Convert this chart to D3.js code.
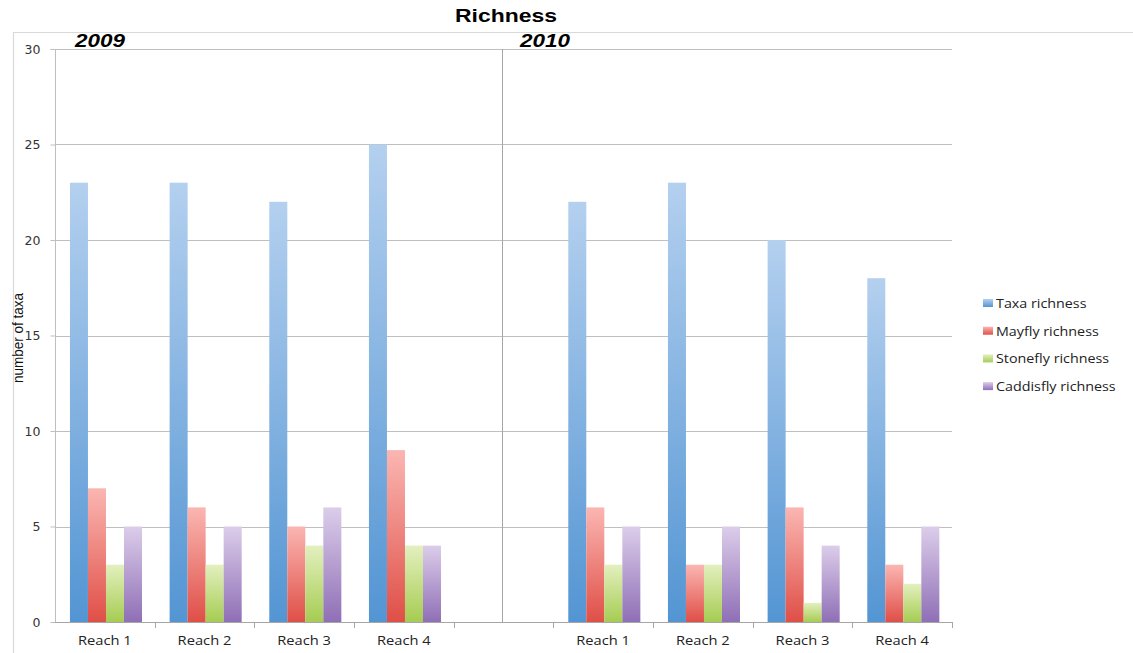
<!DOCTYPE html>
<html>
<head>
<meta charset="utf-8">
<script src="https://cdn.jsdelivr.net/npm/d3@7/dist/d3.min.js"></script>
<style>
  html, body { margin: 0; padding: 0; background: #fff; }
  svg { display: block; }
</style>
</head>
<body>
<svg id="chart" width="1133" height="653"></svg>
<script>
// Sampling sites, grouped by year, with an empty slot between years
const years = ["2009", "2010"];
const reaches = ["Reach 1", "Reach 2", "Reach 3", "Reach 4"];
const seriesNames = ["Taxa richness", "Mayfly richness", "Stonefly richness", "Caddisfly richness"];

// Number of taxa per reach, one array per series (2009 reaches then 2010 reaches)
const taxaRichness      = [23, 23, 22, 25, 22, 23, 20, 18];
const mayflyRichness    = [7, 6, 5, 9, 6, 3, 6, 3];
const stoneflyRichness  = [3, 3, 4, 4, 3, 3, 1, 2];
const caddisflyRichness = [5, 5, 6, 4, 5, 5, 4, 5];

const yTicks = [0, 5, 10, 15, 20, 25, 30];

const seriesValues = [taxaRichness, mayflyRichness, stoneflyRichness, caddisflyRichness];
const seriesColors = [
  { top: "#b4d0ef", bottom: "#5395d3" },
  { top: "#fbb6b2", bottom: "#df4f47" },
  { top: "#e3f0bf", bottom: "#a6cc52" },
  { top: "#dccdea", bottom: "#8f6fb6" }
];

// Category keys: four reaches for each year, with a gap slot between years
const slots = [];
years.forEach((yr, yi) => {
  reaches.forEach(r => slots.push(yr + "|" + r));
  if (yi === 0) slots.push("gap");
});
const rows = [];
years.forEach((yr, yi) => reaches.forEach((r, ri) => {
  const idx = yi * reaches.length + ri;
  rows.push({ key: yr + "|" + r, reach: r, values: seriesValues.map(s => s[idx]) });
}));

const svg = d3.select("#chart");
const plotLeft = 55, plotRight = 952, plotTop = 49, plotBottom = 622;

// Widen text horizontally by a factor, keeping its height
function widen(sel, factor) {
  sel.each(function () {
    const w = this.getComputedTextLength();
    d3.select(this).attr("textLength", w * factor).attr("lengthAdjust", "spacingAndGlyphs");
  });
}

// Outer frame
svg.append("path")
  .attr("d", "M13.5,653 V32.5 H1133")
  .attr("fill", "none").attr("stroke", "#d9d9d9").attr("stroke-width", 1.2);

const x0 = d3.scaleBand().domain(slots).range([plotLeft, plotRight]).padding(0);
const bw = x0.bandwidth();
const x1 = d3.scaleBand().domain(seriesNames).range([bw * 0.15, bw * 0.873]).padding(0);
const y = d3.scaleLinear().domain([0, 30]).range([plotBottom, plotTop]);

// Vertical gradients, light at top and saturated at the base
const defs = svg.append("defs");
seriesColors.forEach((c, i) => {
  const g = defs.append("linearGradient").attr("id", "grad" + i)
    .attr("x1", 0).attr("y1", 0).attr("x2", 0).attr("y2", 1);
  g.append("stop").attr("offset", "0%").attr("stop-color", c.top);
  g.append("stop").attr("offset", "100%").attr("stop-color", c.bottom);
});

// Horizontal gridlines
svg.append("g").selectAll("line").data(yTicks.filter(d => d > 0)).join("line")
  .attr("x1", plotLeft).attr("x2", plotRight)
  .attr("y1", d => Math.round(y(d)) + 0.5).attr("y2", d => Math.round(y(d)) + 0.5)
  .attr("stroke", "#bfbfbf").attr("stroke-width", 1);

// Y axis
const yAxis = d3.axisLeft(y).tickValues(yTicks).tickSize(5).tickPadding(10);
const yg = svg.append("g").attr("transform", `translate(${plotLeft + 0.5},0)`).call(yAxis);
yg.select(".domain").attr("stroke", "#bfbfbf").attr("d", `M-5,${plotTop + 0.5}H0V${plotBottom + 0.5}`);
yg.selectAll(".tick line").attr("stroke", "#bfbfbf");
yg.selectAll(".tick text").attr("font-family", "DejaVu Sans").attr("font-size", 12.5).attr("fill", "#333");

// Separator between the two years
svg.append("line")
  .attr("x1", x0("gap") + bw / 2 - 1).attr("x2", x0("gap") + bw / 2 - 1)
  .attr("y1", plotTop).attr("y2", plotBottom)
  .attr("stroke", "#a6a6a6").attr("stroke-width", 1);

// Bars
const groups = svg.append("g").selectAll("g").data(rows).join("g")
  .attr("transform", d => `translate(${x0(d.key)},0)`);
groups.selectAll("rect")
  .data(d => d.values.map((v, i) => ({ name: seriesNames[i], value: v, i })))
  .join("rect")
  .attr("x", d => x1(d.name))
  .attr("width", x1.bandwidth())
  .attr("y", d => y(d.value))
  .attr("height", d => y(0) - y(d.value))
  .attr("fill", d => `url(#grad${d.i})`);

// X axis with ticks at category boundaries
const xg = svg.append("g");
xg.append("line").attr("x1", plotLeft).attr("x2", plotRight)
  .attr("y1", plotBottom + 0.5).attr("y2", plotBottom + 0.5)
  .attr("stroke", "#a6a6a6");
xg.selectAll("line.tk").data(slots).join("line").attr("class", "tk")
  .attr("x1", d => Math.round(x0(d) + bw) + 0.5).attr("x2", d => Math.round(x0(d) + bw) + 0.5)
  .attr("y1", plotBottom).attr("y2", plotBottom + 6)
  .attr("stroke", "#a6a6a6");
xg.selectAll("text").data(rows).join("text")
  .attr("x", d => x0(d.key) + bw / 2)
  .attr("y", 645)
  .attr("text-anchor", "middle")
  .attr("font-family", "Open Sans")
  .attr("font-size", 13)
  .attr("fill", "#222")
  .text(d => d.reach)
  .call(widen, 1.13);

// Title
svg.append("text")
  .attr("x", 506).attr("y", 22)
  .attr("text-anchor", "middle")
  .attr("font-family", "Liberation Sans, Arial")
  .attr("font-weight", "bold")
  .attr("font-size", 19)
  .attr("textLength", 102).attr("lengthAdjust", "spacingAndGlyphs")
  .text("Richness");

// Year labels
[{ t: years[0], x: 75 }, { t: years[1], x: 520 }].forEach(o => {
  svg.append("text")
    .attr("x", o.x).attr("y", 47)
    .attr("font-family", "Liberation Sans, Arial")
    .attr("font-weight", "bold").attr("font-style", "italic")
    .attr("font-size", 19)
    .attr("textLength", 50).attr("lengthAdjust", "spacingAndGlyphs")
    .text(o.t);
});

// Y axis title
svg.append("text")
  .attr("transform", "translate(23,338) rotate(-90)")
  .attr("text-anchor", "middle")
  .attr("font-family", "Liberation Sans Narrow, Liberation Sans, Arial")
  .attr("font-size", 14)
  .attr("textLength", 90).attr("lengthAdjust", "spacingAndGlyphs")
  .attr("fill", "#111")
  .text("number of taxa");

// Legend
const legend = svg.append("g").attr("transform", "translate(983,303)");
const li = legend.selectAll("g").data(seriesNames).join("g")
  .attr("transform", (d, i) => `translate(0,${i * 27.7})`);
li.append("rect").attr("x", 0).attr("y", -4).attr("width", 10).attr("height", 8)
  .attr("fill", (d, i) => `url(#grad${i})`);
li.append("text").attr("x", 13).attr("y", 5)
  .attr("font-family", "Open Sans")
  .attr("font-size", 13)
  .attr("fill", "#222")
  .text(d => d)
  .call(widen, 1.1);
</script>
</body>
</html>
